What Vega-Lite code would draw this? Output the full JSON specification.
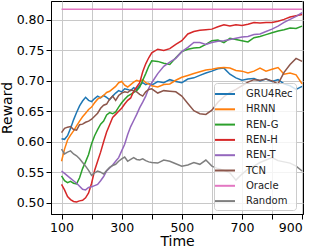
{
  "$schema": "https://vega.github.io/schema/vega-lite/v6.json",
  "width": 252,
  "height": 213,
  "autosize": {"type": "none"},
  "padding": {"left": 51, "top": 1, "right": 12, "bottom": 35},
  "background": "white",
  "data": {"values": [
    {"t":100,"GRU4Rec":0.605,"HRNN":0.568,"REN-G":0.544,"REN-H":0.530,"REN-T":0.552,"TCN":0.615,"Oracle":0.8175,"Random":0.588},
    {"t":110,"GRU4Rec":0.604,"HRNN":0.588,"REN-G":0.536,"REN-H":0.521,"REN-T":0.548,"TCN":0.622,"Oracle":0.8175,"Random":0.580},
    {"t":120,"GRU4Rec":0.610,"HRNN":0.603,"REN-G":0.533,"REN-H":0.510,"REN-T":0.544,"TCN":0.624,"Oracle":0.8175,"Random":0.583},
    {"t":130,"GRU4Rec":0.622,"HRNN":0.611,"REN-G":0.535,"REN-H":0.505,"REN-T":0.540,"TCN":0.625,"Oracle":0.8175,"Random":0.585},
    {"t":140,"GRU4Rec":0.636,"HRNN":0.618,"REN-G":0.532,"REN-H":0.502,"REN-T":0.536,"TCN":0.620,"Oracle":0.8175,"Random":0.580},
    {"t":150,"GRU4Rec":0.648,"HRNN":0.626,"REN-G":0.531,"REN-H":0.501,"REN-T":0.532,"TCN":0.619,"Oracle":0.8175,"Random":0.577},
    {"t":160,"GRU4Rec":0.659,"HRNN":0.634,"REN-G":0.541,"REN-H":0.503,"REN-T":0.527,"TCN":0.628,"Oracle":0.8175,"Random":0.572},
    {"t":170,"GRU4Rec":0.667,"HRNN":0.641,"REN-G":0.556,"REN-H":0.504,"REN-T":0.522,"TCN":0.629,"Oracle":0.8175,"Random":0.566},
    {"t":180,"GRU4Rec":0.673,"HRNN":0.647,"REN-G":0.567,"REN-H":0.508,"REN-T":0.521,"TCN":0.632,"Oracle":0.8175,"Random":0.560},
    {"t":190,"GRU4Rec":0.668,"HRNN":0.653,"REN-G":0.579,"REN-H":0.516,"REN-T":0.525,"TCN":0.634,"Oracle":0.8175,"Random":0.553},
    {"t":200,"GRU4Rec":0.666,"HRNN":0.657,"REN-G":0.597,"REN-H":0.532,"REN-T":0.526,"TCN":0.637,"Oracle":0.8175,"Random":0.545},
    {"t":210,"GRU4Rec":0.671,"HRNN":0.664,"REN-G":0.610,"REN-H":0.553,"REN-T":0.528,"TCN":0.642,"Oracle":0.8175,"Random":0.549},
    {"t":220,"GRU4Rec":0.675,"HRNN":0.670,"REN-G":0.620,"REN-H":0.568,"REN-T":0.530,"TCN":0.647,"Oracle":0.8175,"Random":0.552},
    {"t":230,"GRU4Rec":0.672,"HRNN":0.673,"REN-G":0.629,"REN-H":0.583,"REN-T":0.536,"TCN":0.655,"Oracle":0.8175,"Random":0.550},
    {"t":240,"GRU4Rec":0.676,"HRNN":0.676,"REN-G":0.634,"REN-H":0.600,"REN-T":0.543,"TCN":0.660,"Oracle":0.8175,"Random":0.547},
    {"t":250,"GRU4Rec":0.673,"HRNN":0.681,"REN-G":0.644,"REN-H":0.616,"REN-T":0.552,"TCN":0.662,"Oracle":0.8175,"Random":0.553},
    {"t":260,"GRU4Rec":0.669,"HRNN":0.683,"REN-G":0.648,"REN-H":0.628,"REN-T":0.557,"TCN":0.670,"Oracle":0.8175,"Random":0.558},
    {"t":270,"GRU4Rec":0.675,"HRNN":0.687,"REN-G":0.646,"REN-H":0.640,"REN-T":0.562,"TCN":0.675,"Oracle":0.8175,"Random":0.561},
    {"t":280,"GRU4Rec":0.680,"HRNN":0.691,"REN-G":0.649,"REN-H":0.645,"REN-T":0.568,"TCN":0.668,"Oracle":0.8175,"Random":0.563},
    {"t":290,"GRU4Rec":0.684,"HRNN":0.697,"REN-G":0.657,"REN-H":0.650,"REN-T":0.574,"TCN":0.676,"Oracle":0.8175,"Random":0.568},
    {"t":300,"GRU4Rec":0.682,"HRNN":0.699,"REN-G":0.664,"REN-H":0.655,"REN-T":0.585,"TCN":0.680,"Oracle":0.8175,"Random":0.572},
    {"t":310,"GRU4Rec":0.687,"HRNN":0.693,"REN-G":0.670,"REN-H":0.662,"REN-T":0.596,"TCN":0.682,"Oracle":0.8175,"Random":0.575},
    {"t":320,"GRU4Rec":0.686,"HRNN":0.690,"REN-G":0.675,"REN-H":0.668,"REN-T":0.612,"TCN":0.681,"Oracle":0.8175,"Random":0.568},
    {"t":330,"GRU4Rec":0.684,"HRNN":0.694,"REN-G":0.678,"REN-H":0.672,"REN-T":0.625,"TCN":0.685,"Oracle":0.8175,"Random":0.571},
    {"t":340,"GRU4Rec":0.689,"HRNN":0.698,"REN-G":0.681,"REN-H":0.683,"REN-T":0.635,"TCN":0.684,"Oracle":0.8175,"Random":0.574},
    {"t":350,"GRU4Rec":0.686,"HRNN":0.701,"REN-G":0.684,"REN-H":0.690,"REN-T":0.645,"TCN":0.682,"Oracle":0.8175,"Random":0.571},
    {"t":360,"GRU4Rec":0.693,"HRNN":0.699,"REN-G":0.690,"REN-H":0.697,"REN-T":0.656,"TCN":0.678,"Oracle":0.8175,"Random":0.570},
    {"t":370,"GRU4Rec":0.697,"HRNN":0.702,"REN-G":0.701,"REN-H":0.715,"REN-T":0.665,"TCN":0.675,"Oracle":0.8175,"Random":0.572},
    {"t":380,"GRU4Rec":0.694,"HRNN":0.697,"REN-G":0.712,"REN-H":0.728,"REN-T":0.675,"TCN":0.682,"Oracle":0.8175,"Random":0.569},
    {"t":390,"GRU4Rec":0.696,"HRNN":0.695,"REN-G":0.724,"REN-H":0.738,"REN-T":0.688,"TCN":0.686,"Oracle":0.8175,"Random":0.567},
    {"t":400,"GRU4Rec":0.693,"HRNN":0.692,"REN-G":0.733,"REN-H":0.746,"REN-T":0.697,"TCN":0.687,"Oracle":0.8175,"Random":0.566},
    {"t":420,"GRU4Rec":0.699,"HRNN":0.690,"REN-G":0.732,"REN-H":0.752,"REN-T":0.712,"TCN":0.680,"Oracle":0.8175,"Random":0.565},
    {"t":440,"GRU4Rec":0.697,"HRNN":0.694,"REN-G":0.729,"REN-H":0.750,"REN-T":0.724,"TCN":0.684,"Oracle":0.8175,"Random":0.570},
    {"t":460,"GRU4Rec":0.702,"HRNN":0.695,"REN-G":0.727,"REN-H":0.753,"REN-T":0.731,"TCN":0.683,"Oracle":0.8175,"Random":0.568},
    {"t":480,"GRU4Rec":0.699,"HRNN":0.701,"REN-G":0.738,"REN-H":0.760,"REN-T":0.737,"TCN":0.682,"Oracle":0.8175,"Random":0.564},
    {"t":500,"GRU4Rec":0.697,"HRNN":0.706,"REN-G":0.748,"REN-H":0.766,"REN-T":0.748,"TCN":0.675,"Oracle":0.8175,"Random":0.560},
    {"t":520,"GRU4Rec":0.703,"HRNN":0.709,"REN-G":0.752,"REN-H":0.777,"REN-T":0.755,"TCN":0.663,"Oracle":0.8175,"Random":0.562},
    {"t":540,"GRU4Rec":0.705,"HRNN":0.712,"REN-G":0.754,"REN-H":0.781,"REN-T":0.763,"TCN":0.651,"Oracle":0.8175,"Random":0.566},
    {"t":560,"GRU4Rec":0.709,"HRNN":0.715,"REN-G":0.755,"REN-H":0.783,"REN-T":0.763,"TCN":0.646,"Oracle":0.8175,"Random":0.563},
    {"t":580,"GRU4Rec":0.713,"HRNN":0.718,"REN-G":0.760,"REN-H":0.784,"REN-T":0.760,"TCN":0.645,"Oracle":0.8175,"Random":0.570},
    {"t":600,"GRU4Rec":0.716,"HRNN":0.719,"REN-G":0.766,"REN-H":0.785,"REN-T":0.763,"TCN":0.652,"Oracle":0.8175,"Random":0.560},
    {"t":620,"GRU4Rec":0.720,"HRNN":0.721,"REN-G":0.767,"REN-H":0.789,"REN-T":0.765,"TCN":0.665,"Oracle":0.8175,"Random":0.556},
    {"t":640,"GRU4Rec":0.721,"HRNN":0.722,"REN-G":0.763,"REN-H":0.792,"REN-T":0.766,"TCN":0.674,"Oracle":0.8175,"Random":0.553},
    {"t":660,"GRU4Rec":0.711,"HRNN":0.721,"REN-G":0.770,"REN-H":0.790,"REN-T":0.768,"TCN":0.681,"Oracle":0.8175,"Random":0.549},
    {"t":680,"GRU4Rec":0.705,"HRNN":0.717,"REN-G":0.768,"REN-H":0.792,"REN-T":0.770,"TCN":0.686,"Oracle":0.8175,"Random":0.537},
    {"t":700,"GRU4Rec":0.701,"HRNN":0.716,"REN-G":0.766,"REN-H":0.791,"REN-T":0.772,"TCN":0.692,"Oracle":0.8175,"Random":0.547},
    {"t":720,"GRU4Rec":0.703,"HRNN":0.713,"REN-G":0.764,"REN-H":0.793,"REN-T":0.773,"TCN":0.698,"Oracle":0.8175,"Random":0.555},
    {"t":740,"GRU4Rec":0.704,"HRNN":0.716,"REN-G":0.771,"REN-H":0.796,"REN-T":0.776,"TCN":0.702,"Oracle":0.8175,"Random":0.560},
    {"t":760,"GRU4Rec":0.700,"HRNN":0.721,"REN-G":0.773,"REN-H":0.795,"REN-T":0.777,"TCN":0.701,"Oracle":0.8175,"Random":0.566},
    {"t":780,"GRU4Rec":0.703,"HRNN":0.716,"REN-G":0.776,"REN-H":0.796,"REN-T":0.781,"TCN":0.703,"Oracle":0.8175,"Random":0.570},
    {"t":800,"GRU4Rec":0.699,"HRNN":0.719,"REN-G":0.779,"REN-H":0.796,"REN-T":0.785,"TCN":0.700,"Oracle":0.8175,"Random":0.574},
    {"t":820,"GRU4Rec":0.702,"HRNN":0.722,"REN-G":0.782,"REN-H":0.798,"REN-T":0.790,"TCN":0.695,"Oracle":0.8175,"Random":0.569},
    {"t":840,"GRU4Rec":0.695,"HRNN":0.711,"REN-G":0.784,"REN-H":0.801,"REN-T":0.796,"TCN":0.714,"Oracle":0.8175,"Random":0.567},
    {"t":860,"GRU4Rec":0.692,"HRNN":0.713,"REN-G":0.787,"REN-H":0.805,"REN-T":0.801,"TCN":0.727,"Oracle":0.8175,"Random":0.565},
    {"t":880,"GRU4Rec":0.686,"HRNN":0.710,"REN-G":0.786,"REN-H":0.807,"REN-T":0.806,"TCN":0.737,"Oracle":0.8175,"Random":0.560},
    {"t":900,"GRU4Rec":0.691,"HRNN":0.695,"REN-G":0.790,"REN-H":0.809,"REN-T":0.812,"TCN":0.732,"Oracle":0.8175,"Random":0.552}
  ]},
  "transform": [
    {"fold": ["GRU4Rec","HRNN","REN-G","REN-H","REN-T","TCN","Oracle","Random"], "as": ["m","r"]}
  ],
  "mark": {"type": "line", "strokeWidth": 1.5, "clip": true},
  "encoding": {
    "x": {"field": "t", "type": "quantitative",
      "scale": {"domain": [65, 903], "nice": false, "zero": false},
      "axis": {"values": [100,200,300,400,500,600,700,800,900], "title": "Time"}},
    "y": {"field": "r", "type": "quantitative",
      "scale": {"domain": [0.4814, 0.8312], "nice": false, "zero": false},
      "axis": {"values": [0.5,0.55,0.6,0.65,0.7,0.75,0.8], "format": ".2f", "title": "Reward"}},
    "color": {"field": "m", "type": "nominal",
      "scale": {"domain": ["GRU4Rec","HRNN","REN-G","REN-H","REN-T","TCN","Oracle","Random"],
        "range": ["#1f77b4","#ff7f0e","#2ca02c","#d62728","#9467bd","#8c564b","#e377c2","#7f7f7f"]},
      "legend": {"title": null, "orient": "none", "legendX": 163, "legendY": 82,
        "symbolType": "M-1.43,0H1.43", "symbolSize": 196, "symbolStrokeWidth": 2,
        "symbolFillColor": "transparent",
        "labelFontSize": 10, "labelFont": "DejaVu Sans", "labelColor": "#222",
        "labelOffset": 13, "rowPadding": 2.3, "padding": 3,
        "fillColor": "rgba(255,255,255,0.8)", "strokeColor": "#cccccc", "cornerRadius": 3}}
  },
  "config": {
    "view": {"stroke": "black", "strokeWidth": 1},
    "axis": {
      "labelFont": "DejaVu Sans", "labelFontSize": 12.5, "labelColor": "black",
      "titleFont": "DejaVu Sans", "titleFontSize": 14, "titleFontWeight": "normal", "titleColor": "black",
      "domainColor": "black", "tickColor": "black", "tickSize": 5, "labelPadding": 2,
      "gridColor": "#c8c8c8", "gridWidth": 1, "gridOpacity": 1
    },
    "axisX": {"titlePadding": 1},
    "axisY": {"titlePadding": 2}
  }
}
